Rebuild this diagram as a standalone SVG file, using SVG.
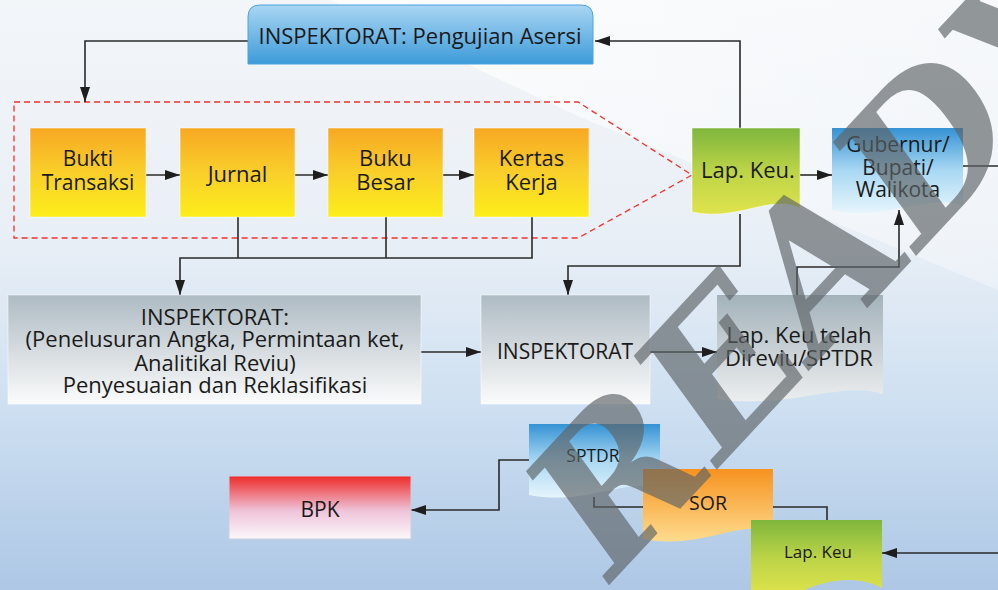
<svg xmlns="http://www.w3.org/2000/svg" width="998" height="590" viewBox="0 0 998 590">
  <defs>
    <linearGradient id="bg" x1="0" y1="0" x2="0" y2="1">
      <stop offset="0" stop-color="#f3f6f9"/>
      <stop offset="0.4" stop-color="#e9eff6"/>
      <stop offset="0.7" stop-color="#cddff1"/>
      <stop offset="1" stop-color="#adc7e5"/>
    </linearGradient>
    <linearGradient id="sheen" x1="0" y1="0" x2="1" y2="0">
      <stop offset="0" stop-color="#ffffff" stop-opacity="0.7"/>
      <stop offset="1" stop-color="#ffffff" stop-opacity="0.3"/>
    </linearGradient>
    <linearGradient id="gBlueTab" x1="0" y1="0" x2="0" y2="1">
      <stop offset="0" stop-color="#aad6f3"/>
      <stop offset="1" stop-color="#3d9bd9"/>
    </linearGradient>
    <linearGradient id="gYellow" x1="0" y1="0" x2="0" y2="1">
      <stop offset="0" stop-color="#f7a823"/>
      <stop offset="0.5" stop-color="#f9cf2a"/>
      <stop offset="1" stop-color="#fcee1a"/>
    </linearGradient>
    <linearGradient id="gGreen" x1="0" y1="0" x2="0" y2="1">
      <stop offset="0" stop-color="#7fb63d"/>
      <stop offset="0.5" stop-color="#bcd447"/>
      <stop offset="1" stop-color="#dfe34c"/>
    </linearGradient>
    <linearGradient id="gBlueDoc" x1="0" y1="0" x2="0" y2="1">
      <stop offset="0" stop-color="#3592d4"/>
      <stop offset="0.5" stop-color="#a9d8f3"/>
      <stop offset="1" stop-color="#e6f5fc"/>
    </linearGradient>
    <linearGradient id="gGray" x1="0" y1="0" x2="0" y2="1">
      <stop offset="0" stop-color="#aebbc3"/>
      <stop offset="1" stop-color="#fbfbfb"/>
    </linearGradient>
    <linearGradient id="gGrayDoc" x1="0" y1="0" x2="0" y2="1">
      <stop offset="0" stop-color="#a3b2ba"/>
      <stop offset="1" stop-color="#eceeef"/>
    </linearGradient>
    <linearGradient id="gRed" x1="0" y1="0" x2="0" y2="1">
      <stop offset="0" stop-color="#ee2a28"/>
      <stop offset="0.55" stop-color="#efc3d9"/>
      <stop offset="1" stop-color="#fbf8fb"/>
    </linearGradient>
    <linearGradient id="gOrange" x1="0" y1="0" x2="0" y2="1">
      <stop offset="0" stop-color="#f7921f"/>
      <stop offset="1" stop-color="#fddc8e"/>
    </linearGradient>
    <marker id="arrow" viewBox="0 0 15 10" refX="15" refY="5" markerWidth="15" markerHeight="10" markerUnits="userSpaceOnUse" orient="auto">
      <path d="M0,0 L15,5 L0,10 Z" fill="#1e1e1e"/>
    </marker>
    <style>
      .lbl { font-family: "Open Sans", "Noto Sans", "DejaVu Sans", sans-serif; fill: #1a1a1a; text-anchor: middle; }
      .f22 { font-size: 22px; }
      .f21 { font-size: 21px; }
      .f17 { font-size: 17.5px; }
      .f19 { font-size: 19.5px; }
      .box { stroke: #ffffff; stroke-opacity: 0.5; stroke-width: 1; }
      .wire { fill: none; stroke: #2a2a2a; stroke-width: 1.6; }
      .mark { font-family: "DejaVu Serif", "Liberation Serif", serif; font-weight: bold; font-style: italic; font-size: 190px; fill: #5c6266; fill-opacity: 0.66; }
    </style>
  </defs>

  <!-- backdrop -->
  <rect x="0" y="0" width="998" height="590" fill="url(#bg)"/>
  <polygon points="330,0 998,0 998,290 580,117" fill="url(#sheen)"/>

  <!-- dashed grouping outline around the bookkeeping chain -->
  <path d="M14,102 H578 L692,175 L578,238 H14 Z" fill="none" stroke="#f5302c" stroke-width="1.3" stroke-dasharray="6 4"/>

  <!-- connectors -->
  <g id="connectors">
    <path class="wire" d="M248,41 H85 V102" marker-end="url(#arrow)"/>
    <path class="wire" d="M740,128 V41 H595" marker-end="url(#arrow)"/>
    <path class="wire" d="M146,175 H180" marker-end="url(#arrow)"/>
    <path class="wire" d="M295,175 H328" marker-end="url(#arrow)"/>
    <path class="wire" d="M443,175 H474" marker-end="url(#arrow)"/>
    <path class="wire" d="M800,175 H832" marker-end="url(#arrow)"/>
    <path class="wire" d="M963,166 H998"/>
    <path class="wire" d="M238,217 V258 M386,217 V258"/>
    <path class="wire" d="M532,217 V258 H180 V295" marker-end="url(#arrow)"/>
    <path class="wire" d="M740,214 V266 H568 V295" marker-end="url(#arrow)"/>
    <path class="wire" d="M421,352 H481" marker-end="url(#arrow)"/>
    <path class="wire" d="M650,352 H717" marker-end="url(#arrow)"/>
    <path class="wire" d="M797,295 V267 H899 V210" marker-end="url(#arrow)"/>
    <path class="wire" d="M529,460 H499 V510 H411" marker-end="url(#arrow)"/>
    <path class="wire" d="M594,497 V507 H643"/>
    <path class="wire" d="M773,507 H827 V520"/>
    <path class="wire" d="M998,553 H882" marker-end="url(#arrow)"/>
  </g>

  <g id="inspektorat-asersi">
    <path d="M248,64 V17 Q248,5 260,5 H581 Q593,5 593,17 V64 Z" fill="url(#gBlueTab)" stroke="#4aa3de" stroke-width="1"/>
    <text class="lbl f22" x="420" y="44">INSPEKTORAT: Pengujian Asersi</text>
  </g>

  <g id="bukti-transaksi">
    <rect class="box" x="30" y="128" width="116" height="89" fill="url(#gYellow)"/>
    <text class="lbl f21" x="88" y="166">Bukti</text>
    <text class="lbl f21" x="88" y="190">Transaksi</text>
  </g>

  <g id="jurnal">
    <rect class="box" x="180" y="128" width="115" height="89" fill="url(#gYellow)"/>
    <text class="lbl f22" x="237.5" y="182">Jurnal</text>
  </g>

  <g id="buku-besar">
    <rect class="box" x="328" y="128" width="115" height="89" fill="url(#gYellow)"/>
    <text class="lbl f22" x="385.5" y="166">Buku</text>
    <text class="lbl f22" x="385.5" y="190">Besar</text>
  </g>

  <g id="kertas-kerja">
    <rect class="box" x="474" y="128" width="115" height="89" fill="url(#gYellow)"/>
    <text class="lbl f22" x="531.5" y="166">Kertas</text>
    <text class="lbl f22" x="531.5" y="190">Kerja</text>
  </g>

  <g id="lap-keu-atas">
    <path class="box" d="M692,128 H800 V208 C768,194 738,222 692,212 Z" fill="url(#gGreen)"/>
    <text class="lbl f22" x="748" y="178">Lap. Keu.</text>
  </g>

  <g id="gubernur">
    <path d="M832,128 H963 V206 C925,192 890,222 832,210 Z" fill="url(#gBlueDoc)"/>
    <text class="lbl f21" x="898" y="152">Gubernur/</text>
    <text class="lbl f21" x="898" y="175">Bupati/</text>
    <text class="lbl f21" x="898" y="197">Walikota</text>
  </g>

  <g id="inspektorat-reviu">
    <rect class="box" x="8" y="295" width="413" height="109" fill="url(#gGray)"/>
    <text class="lbl f22" x="215" y="325">INSPEKTORAT:</text>
    <text class="lbl f22" x="215" y="347">(Penelusuran Angka, Permintaan ket,</text>
    <text class="lbl f22" x="215" y="371">Analitikal Reviu)</text>
    <text class="lbl f22" x="215" y="393">Penyesuaian dan Reklasifikasi</text>
  </g>

  <g id="inspektorat">
    <rect class="box" x="481" y="295" width="169" height="109" fill="url(#gGray)"/>
    <text class="lbl f21" x="565" y="359">INSPEKTORAT</text>
  </g>

  <g id="lap-keu-direviu">
    <path d="M717,295 H883 V394 C840,380 790,410 717,399 Z" fill="url(#gGrayDoc)"/>
    <text class="lbl f22" x="799" y="343">Lap. Keu telah</text>
    <text class="lbl f22" x="799" y="366">Direviu/SPTDR</text>
  </g>

  <g id="bpk">
    <rect x="229" y="476" width="182" height="63" fill="url(#gRed)" stroke="#c9cfe0" stroke-width="1"/>
    <text class="lbl f21" x="320" y="517">BPK</text>
  </g>

  <g id="sptdr">
    <path d="M529,424 H660 V488 C625,478 585,506 529,495 Z" fill="url(#gBlueDoc)"/>
    <text class="lbl f17" x="593" y="462">SPTDR</text>
  </g>

  <g id="sor">
    <path d="M643,469 H773 V531 C738,520 700,550 643,539 Z" fill="url(#gOrange)"/>
    <text class="lbl f19" x="708" y="510">SOR</text>
  </g>

  <g id="lap-keu-bawah">
    <path d="M751,520 H882 V588 C858,576 830,578 800,592 L751,596 Z" fill="url(#gGreen)"/>
    <text class="lbl" style="font-size:17px" x="818" y="558">Lap. Keu</text>
  </g>

  <!-- diagonal stamp across the right half -->
  <text class="mark" transform="translate(612,582) rotate(-47)">READY</text>
</svg>
